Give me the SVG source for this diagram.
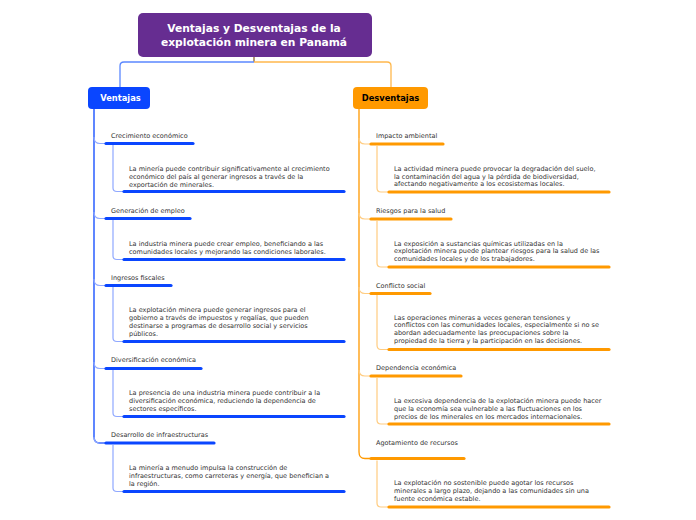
<svg xmlns="http://www.w3.org/2000/svg" width="696" height="520" viewBox="0 0 696 520">
<style>
.root{fill:#662D91}
.rt{font-family:"DejaVu Sans",Verdana,sans-serif;font-weight:bold;font-size:10.7px;fill:#fff;text-anchor:middle}
.mt{font-family:"DejaVu Sans",Verdana,sans-serif;font-weight:bold;font-size:8.3px;text-anchor:middle}
.st{font-family:"DejaVu Sans",Verdana,sans-serif;font-size:6.5px;fill:#333}
.dt{font-family:"DejaVu Sans",Verdana,sans-serif;font-size:6.5px;fill:#333}
.ub{stroke:#0A46FF;stroke-width:3.2;stroke-linecap:round;fill:none}
.uo{stroke:#FF9900;stroke-width:3.2;stroke-linecap:round;fill:none}
.mb{stroke:#0A46FF;stroke-width:1.3;fill:none}
.mo{stroke:#FF9900;stroke-width:1.3;fill:none}
.bb{stroke:#8FA8FF;stroke-width:1.2;fill:none}
.bo{stroke:#FFCC80;stroke-width:1.2;fill:none}
</style>
<rect width="696" height="520" fill="#fff"/>
<g id="connectors">
<path d="M254,57 V62" stroke="#9C7A4A" stroke-width="1.5" fill="none"/>
<path d="M254,62 H124 Q120,62 120,66 V87" stroke="#5B88FF" stroke-width="1.3" fill="none"/>
<path d="M254,62 H387 Q391,62 391,66 V87" stroke="#FFB84D" stroke-width="1.3" fill="none"/>
<path class="mb" d="M94,109 V437 Q94,443 100,443 H105"/>
<path class="bb" d="M94,137 Q94,143.5 100,143.5 H105"/>
<path class="bb" d="M94,212 Q94,218.5 100,218.5 H105"/>
<path class="bb" d="M94,279 Q94,285.5 100,285.5 H105"/>
<path class="bb" d="M94,362 Q94,368.5 100,368.5 H105"/>
<path class="bb" d="M94,437 Q94,443 100,443 H105"/>
<path class="bb" d="M113,145 V188 Q113,191.5 117,191.5 H123"/>
<path class="bb" d="M113,220 V256 Q113,259.5 117,259.5 H123"/>
<path class="bb" d="M113,287 V338 Q113,341.5 117,341.5 H123"/>
<path class="bb" d="M113,370 V413 Q113,416.5 117,416.5 H123"/>
<path class="bb" d="M113,445 V488 Q113,491.5 117,491.5 H123"/>
<path class="mo" d="M359,109 V452 Q359,458.5 365,458.5 H370"/>
<path class="bo" d="M359,138 Q359,144 365,144 H370"/>
<path class="bo" d="M359,213 Q359,219 365,219 H370"/>
<path class="bo" d="M359,287 Q359,293.5 365,293.5 H370"/>
<path class="bo" d="M359,370 Q359,376 365,376 H370"/>
<path class="bo" d="M377,146 V188 Q377,192 381,192 H388"/>
<path class="bo" d="M377,221 V263 Q377,267 381,267 H388"/>
<path class="bo" d="M377,295 V345 Q377,349.5 381,349.5 H388"/>
<path class="bo" d="M377,378 V420 Q377,424 381,424 H388"/>
<path class="bo" d="M377,460.5 V503 Q377,507 381,507 H388"/>
</g>
<g id="root">
<rect class="root" x="138" y="13" width="234" height="44" rx="5"/>
<text class="rt" x="254" y="32">Ventajas y Desventajas de la</text>
<text class="rt" x="254" y="46">explotación minera en Panamá</text>
</g>
<g id="ventajas">
<rect x="88" y="87" width="62" height="22" rx="4" fill="#0A46FF"/>
<text class="mt" x="120.5" y="101" fill="#fff">Ventajas</text>
</g>
<g id="desventajas">
<rect x="353" y="87" width="75" height="22" rx="4" fill="#FF9900"/>
<text class="mt" x="390.5" y="101" fill="#000">Desventajas</text>
</g>
<g id="v1">
<text class="st" x="111" y="137.5">Crecimiento económico</text>
<path class="ub" d="M106,143.5 H193"/>
</g>
<g id="v1d">
<text class="dt" x="129" y="170.5">La minería puede contribuir significativamente al crecimiento</text>
<text class="dt" x="129" y="178.5">económico del país al generar ingresos a través de la</text>
<text class="dt" x="129" y="186.5">exportación de minerales.</text>
<path class="ub" d="M124,191.5 H344"/>
</g>
<g id="v2">
<text class="st" x="111" y="213">Generación de empleo</text>
<path class="ub" d="M106,218.5 H190"/>
</g>
<g id="v2d">
<text class="dt" x="129" y="245.5">La industria minera puede crear empleo, beneficiando a las</text>
<text class="dt" x="129" y="253.5">comunidades locales y mejorando las condiciones laborales.</text>
<path class="ub" d="M124,259.5 H344"/>
</g>
<g id="v3">
<text class="st" x="111" y="280">Ingresos fiscales</text>
<path class="ub" d="M106,285.5 H171"/>
</g>
<g id="v3d">
<text class="dt" x="129" y="311.5">La explotación minera puede generar ingresos para el</text>
<text class="dt" x="129" y="319.5">gobierno a través de impuestos y regalías, que pueden</text>
<text class="dt" x="129" y="327.5">destinarse a programas de desarrollo social y servicios</text>
<text class="dt" x="129" y="335.5">públicos.</text>
<path class="ub" d="M124,341.5 H344"/>
</g>
<g id="v4">
<text class="st" x="111" y="361.5">Diversificación económica</text>
<path class="ub" d="M106,368.5 H201"/>
</g>
<g id="v4d">
<text class="dt" x="129" y="394.5">La presencia de una industria minera puede contribuir a la</text>
<text class="dt" x="129" y="402.5">diversificación económica, reduciendo la dependencia de</text>
<text class="dt" x="129" y="410.5">sectores específicos.</text>
<path class="ub" d="M124,416.5 H344"/>
</g>
<g id="v5">
<text class="st" x="111" y="436.5">Desarrollo de infraestructuras</text>
<path class="ub" d="M106,443 H214"/>
</g>
<g id="v5d">
<text class="dt" x="129" y="469.5">La minería a menudo impulsa la construcción de</text>
<text class="dt" x="129" y="477.5">infraestructuras, como carreteras y energía, que benefician a</text>
<text class="dt" x="129" y="485.5">la región.</text>
<path class="ub" d="M124,491.5 H344"/>
</g>
<g id="d1">
<text class="st" x="376" y="137.5">Impacto ambiental</text>
<path class="uo" d="M371,144 H443"/>
</g>
<g id="d1d">
<text class="dt" x="394" y="171">La actividad minera puede provocar la degradación del suelo,</text>
<text class="dt" x="394" y="178.5">la contaminación del agua y la pérdida de biodiversidad,</text>
<text class="dt" x="394" y="186">afectando negativamente a los ecosistemas locales.</text>
<path class="uo" d="M389,192 H609"/>
</g>
<g id="d2">
<text class="st" x="376" y="212.5">Riesgos para la salud</text>
<path class="uo" d="M371,219 H451"/>
</g>
<g id="d2d">
<text class="dt" x="394" y="245.5">La exposición a sustancias químicas utilizadas en la</text>
<text class="dt" x="394" y="253">explotación minera puede plantear riesgos para la salud de las</text>
<text class="dt" x="394" y="260.5">comunidades locales y de los trabajadores.</text>
<path class="uo" d="M389,267 H609"/>
</g>
<g id="d3">
<text class="st" x="376" y="287.5">Conflicto social</text>
<path class="uo" d="M371,293.5 H430"/>
</g>
<g id="d3d">
<text class="dt" x="394" y="319.5">Las operaciones mineras a veces generan tensiones y</text>
<text class="dt" x="394" y="327">conflictos con las comunidades locales, especialmente si no se</text>
<text class="dt" x="394" y="335">abordan adecuadamente las preocupaciones sobre la</text>
<text class="dt" x="394" y="343">propiedad de la tierra y la participación en las decisiones.</text>
<path class="uo" d="M389,349.5 H609"/>
</g>
<g id="d4">
<text class="st" x="376" y="369.5">Dependencia económica</text>
<path class="uo" d="M371,376 H461"/>
</g>
<g id="d4d">
<text class="dt" x="394" y="403">La excesiva dependencia de la explotación minera puede hacer</text>
<text class="dt" x="394" y="411">que la economía sea vulnerable a las fluctuaciones en los</text>
<text class="dt" x="394" y="419">precios de los minerales en los mercados internacionales.</text>
<path class="uo" d="M389,424 H609"/>
</g>
<g id="d5">
<text class="st" x="376" y="444.5">Agotamiento de recursos</text>
<path class="uo" d="M371,458.5 H464"/>
</g>
<g id="d5d">
<text class="dt" x="394" y="484.5">La explotación no sostenible puede agotar los recursos</text>
<text class="dt" x="394" y="492.5">minerales a largo plazo, dejando a las comunidades sin una</text>
<text class="dt" x="394" y="500.5">fuente económica estable.</text>
<path class="uo" d="M389,507 H609"/>
</g>
</svg>
